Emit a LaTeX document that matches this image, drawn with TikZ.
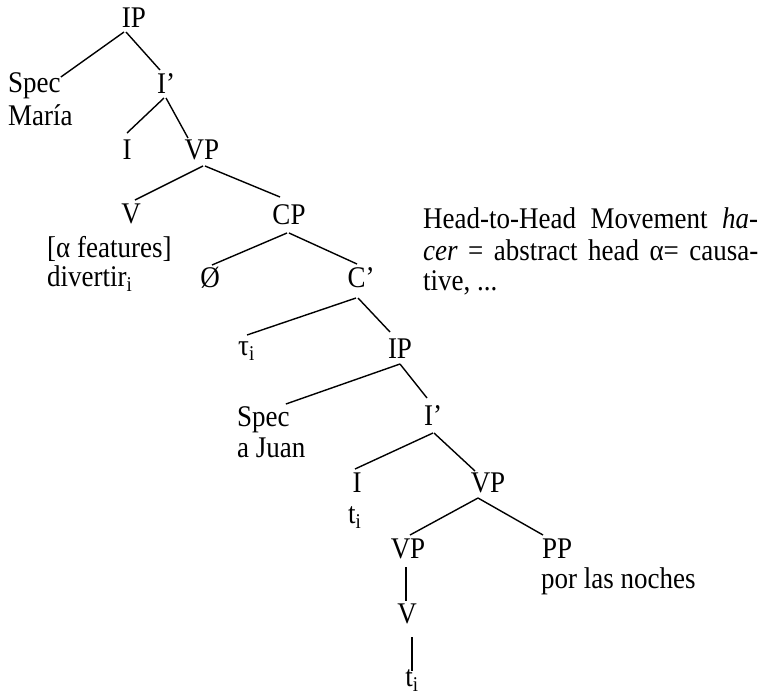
\documentclass[tikz,border=0pt]{standalone}
\usepackage{fontspec}
\setmainfont{Liberation Serif}[FakeStretch=0.9]
\newcommand\tedge[4]{\draw[br] ([shift={#2}]#1) -- ([shift={#4}]#3);}
\begin{document}
\begin{tikzpicture}[x=1pt,y=-1pt,
  font=\fontsize{30}{32}\selectfont,
  lab/.style={inner sep=0pt, anchor=base},
  labl/.style={inner sep=0pt, anchor=base west},
  br/.style={line width=1.4pt}]
\useasboundingbox (0,0) rectangle (767,697);
% nodes
\node[lab] (ip) at (134,27) {IP};
\node[labl] (spec) at (8,92) {Spec};
\node[labl] (maria) at (8,125) {María};
\node[lab] (ibar) at (166,93) {I’};
\node[lab] (i) at (127,159) {I};
\node[lab] (vp) at (202,159) {VP};
\node[lab] (v) at (131,223) {V};
\node[lab] (cp) at (289,224) {CP};
\node[labl] (feat) at (47,257) {[α features]};
\node[labl] (divertir) at (47,286) {divertir\textsubscript{i}};
\node[lab] (null) at (210,287) {Ø};
\node[lab] (cbar) at (361,287) {C’};
\node[labl] (tau) at (238,355) {τ\textsubscript{i}};
\node[lab] (ip2) at (400,358) {IP};
\node[labl] (spec2) at (237,426) {Spec};
\node[labl] (juan) at (237,457) {a Juan};
\node[lab] (ibar2) at (433,425) {I’};
\node[lab] (i2) at (357,492) {I};
\node[labl] (ti1) at (348,523) {t\textsubscript{i}};
\node[lab] (vp2) at (488,492) {VP};
\node[lab] (vp3) at (408,558) {VP};
\node[labl] (pp) at (542,558) {PP};
\node[labl] (noches) at (541,588) {por las noches};
\node[lab] (v2) at (407,623) {V};
\node[lab] (ti2) at (412,686) {t\textsubscript{i}};
% side text
\node[labl] (h1) at (423,228) {\makebox[335pt][s]{Head-to-Head Movement \textit{ha-}}};
\node[labl] (h2) at (423,260) {\makebox[335pt][s]{\textit{cer} = abstract head α= causa-}};
\node[labl] (h3) at (423,290) {tive, ...};
% edges
\tedge{ip.base}{(-10,5)}{spec.base east}{(0,-15)}
\tedge{ip.base}{(-8,5)}{ibar.base}{(-6,-23)}
\tedge{ibar.base}{(-2,5)}{i.base}{(0,-26)}
\tedge{ibar.base}{(0,5)}{vp.base}{(-14,-21)}
\tedge{vp.base}{(1,7)}{v.base}{(4,-23)}
\tedge{vp.base}{(3,7)}{cp.base}{(-9,-27)}
\tedge{cp.base}{(-2,9)}{null.base}{(2,-22)}
\tedge{cp.base}{(0,9)}{cbar.base}{(-4,-23)}
\tedge{cbar.base}{(-5,11)}{tau.base west}{(9,-20)}
\tedge{cbar.base}{(-3,11)}{ip2.base}{(-10,-26)}
\tedge{ip2.base}{(0,6)}{spec2.base east}{(-4,-22)}
\tedge{ip2.base}{(0,6)}{ibar2.base}{(-6,-27)}
\tedge{ibar2.base}{(0,8)}{i2.base}{(-2,-23)}
\tedge{ibar2.base}{(1,8)}{vp2.base}{(-13,-21)}
\tedge{vp2.base}{(-10,6)}{vp3.base}{(2,-23)}
\tedge{vp2.base}{(-10,6)}{pp.base west}{(1,-23)}
\tedge{vp3.base}{(-2,9)}{v2.base}{(-1,-22)}
\tedge{v2.base}{(5,14)}{ti2.base}{(0,-15)}
\end{tikzpicture}
\end{document}
